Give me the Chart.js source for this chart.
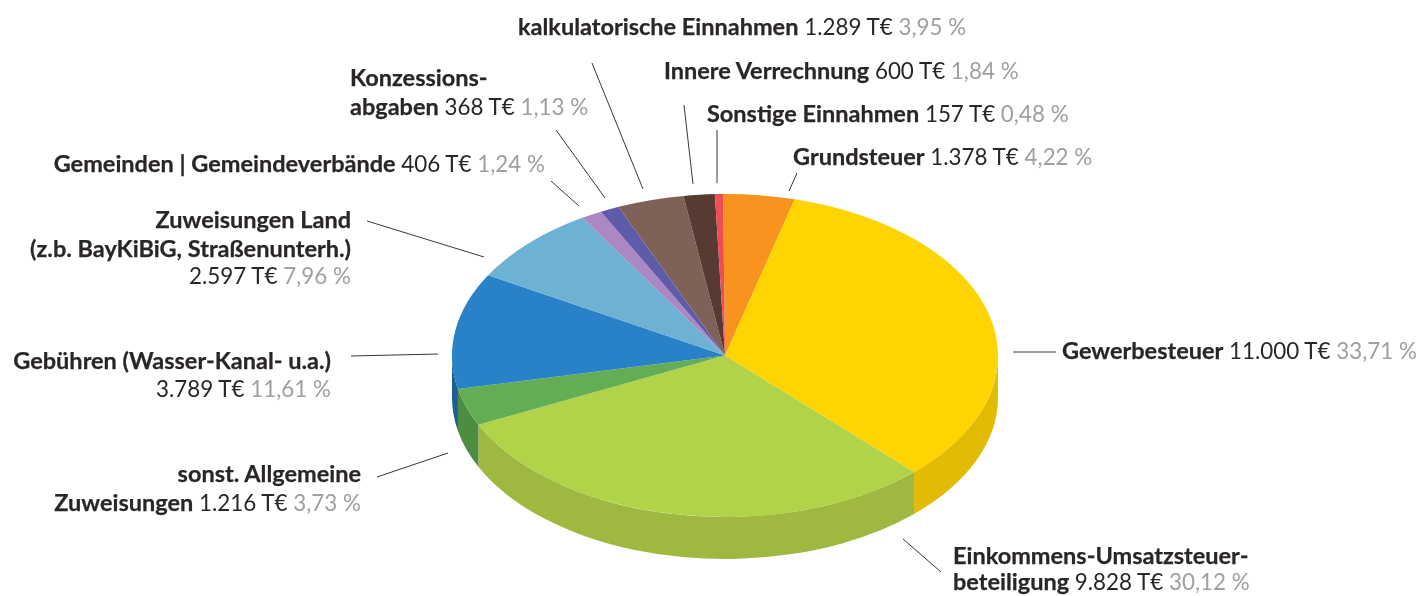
<!DOCTYPE html>
<html lang="de">
<head>
<meta charset="utf-8">
<title>Einnahmen</title>
<script src="https://cdn.jsdelivr.net/npm/chart.js@4/dist/chart.umd.min.js"></script>
<style>
  html, body { margin: 0; padding: 0; background: #fff; }
  #wrap { position: relative; width: 1420px; height: 596px; overflow: hidden; }
  canvas { position: absolute; left: 0; top: 0; }
  .lbl { position: absolute; white-space: nowrap; font: 22.4px Lato, sans-serif; color: #2a2627; line-height: 28px; transform: translateY(calc(-50% - 1px)); }
  .lbl b { font-weight: 700; font-size: 23.5px; -webkit-text-stroke: 0.25px #2a2627; }
  .lbl i { font-style: normal; color: #9f9fa1; }
</style>
</head>
<body>
<div id="wrap"><canvas id="pie" width="1420" height="596"></canvas></div>
<script>
// Data, clockwise from 12 o'clock
const categories = ['Grundsteuer', 'Gewerbesteuer', 'Einkommens-Umsatzsteuerbeteiligung', 'sonst. Allgemeine Zuweisungen',
  'Gebühren (Wasser-Kanal- u.a.)', 'Zuweisungen Land', 'Gemeinden | Gemeindeverbände', 'Konzessionsabgaben',
  'kalkulatorische Einnahmen', 'Innere Verrechnung', 'Sonstige Einnahmen'];
const values = [1378, 11000, 9828, 1216, 3789, 2597, 406, 368, 1289, 600, 157];
const amounts = ['1.378 T€', '11.000 T€', '9.828 T€', '1.216 T€', '3.789 T€', '2.597 T€', '406 T€', '368 T€', '1.289 T€', '600 T€', '157 T€'];
const percents = ['4,22 %', '33,71 %', '30,12 %', '3,73 %', '11,61 %', '7,96 %', '1,24 %', '1,13 %', '3,95 %', '1,84 %', '0,48 %'];

const topColors = ['#f7931e', '#ffd400', '#b1d34a', '#63ad54', '#2982c8', '#6db1d3', '#ab87c3', '#5e5ba8', '#7f6257', '#573b32', '#ee4d52'];
const wallColors = ['#c77a18', '#e2bb05', '#9fb83f', '#4c8d42', '#1c5f96', '#5890ac', '#8a6d9e', '#4b4987', '#665046', '#463028', '#c03e42'];

// Pie projection
const PIE = { cx: 725, cy: 355.5, rx: 273, ry: 161.5, depth: 42 };

// Label layout: [x, align, lines], each line [y, bold, showAmount]
const labelLayout = [
  [793, 'left', [[157, 'Grundsteuer', true]]],
  [1062, 'left', [[351, 'Gewerbesteuer', true]]],
  [953, 'left', [[556, 'Einkommens-Umsatzsteuer-', false], [582, 'beteiligung', true]]],
  [361, 'right', [[474, 'sonst. Allgemeine', false], [503, 'Zuweisungen', true]]],
  [331, 'right', [[361, 'Gebühren (Wasser-Kanal- u.a.)', false], [390, '', true]]],
  [351, 'right', [[220, 'Zuweisungen Land', false], [249, '(z.b. BayKiBiG, Straßenunterh.)', false], [277, '', true]]],
  [545, 'right', [[164, 'Gemeinden | Gemeindeverbände', true]]],
  [350, 'left', [[78, 'Konzessions-', false], [107, 'abgaben', true]]],
  [518, 'left', [[27, 'kalkulatorische Einnahmen', true]]],
  [664, 'left', [[71, 'Innere Verrechnung', true]]],
  [707, 'left', [[114, 'Sonstige Einnahmen', true]]],
];

// Leader lines (annotation, same order as categories)
const leaders = [
  [797, 173, 789, 191], [1013, 352, 1056, 352], [903, 539, 941, 572], [377, 477, 448, 453],
  [351, 356, 438, 354], [367, 221, 484, 257], [551, 181, 579, 206], [556, 130, 605, 198],
  [592, 63, 643, 189], [684, 105, 693, 184], [717, 130, 717, 183],
];

const tiltPlugin = {
  id: 'tilt',
  beforeDatasetDraw(chart, args) {
    const ctx = chart.ctx;
    const arcs = args.meta.data;
    // side wall: only the front half of the rim is visible
    arcs.forEach((arc, i) => {
      const a = Math.max(arc.startAngle, 0);
      const b = Math.min(arc.endAngle, Math.PI);
      if (b <= a) return;
      ctx.beginPath();
      ctx.ellipse(PIE.cx, PIE.cy, PIE.rx, PIE.ry, 0, a, b);
      ctx.ellipse(PIE.cx, PIE.cy + PIE.depth, PIE.rx, PIE.ry, 0, b, a, true);
      ctx.closePath();
      ctx.fillStyle = wallColors[i];
      ctx.fill();
    });
    // top face: squash the library's circle to the ellipse
    const k = arcs[0].outerRadius;
    ctx.save();
    ctx.translate(PIE.cx, PIE.cy);
    ctx.scale(PIE.rx / k, PIE.ry / k);
    ctx.translate(-arcs[0].x, -arcs[0].y);
  },
  afterDatasetDraw(chart) {
    chart.ctx.restore();
  },
  afterDraw(chart) {
    const ctx = chart.ctx;
    ctx.save();
    ctx.strokeStyle = '#3a3637';
    ctx.lineWidth = 1;
    leaders.forEach(l => {
      ctx.beginPath();
      ctx.moveTo(l[0], l[1]);
      ctx.lineTo(l[2], l[3]);
      ctx.stroke();
    });
    ctx.restore();
  }
};

new Chart(document.getElementById('pie'), {
  type: 'pie',
  data: {
    labels: categories,
    datasets: [{ data: values, backgroundColor: topColors, borderWidth: 0, clip: false }]
  },
  options: {
    responsive: false,
    animation: false,
    rotation: -0.4,
    plugins: { legend: { display: false }, tooltip: { enabled: false } }
  },
  plugins: [tiltPlugin]
});

// Labels
const wrap = document.getElementById('wrap');
labelLayout.forEach((entry, i) => {
  const [x, align, lines] = entry;
  lines.forEach(line => {
    const [y, bold, withValue] = line;
    const el = document.createElement('div');
    el.className = 'lbl';
    el.style.top = y + 'px';
    if (align === 'left') el.style.left = x + 'px';
    else el.style.right = (1420 - x) + 'px';
    let html = bold ? '<b>' + bold + '</b>' : '';
    if (withValue) html += (bold ? ' ' : '') + amounts[i] + ' <i>' + percents[i] + '</i>';
    el.innerHTML = html;
    wrap.appendChild(el);
  });
});
</script>
</body>
</html>
